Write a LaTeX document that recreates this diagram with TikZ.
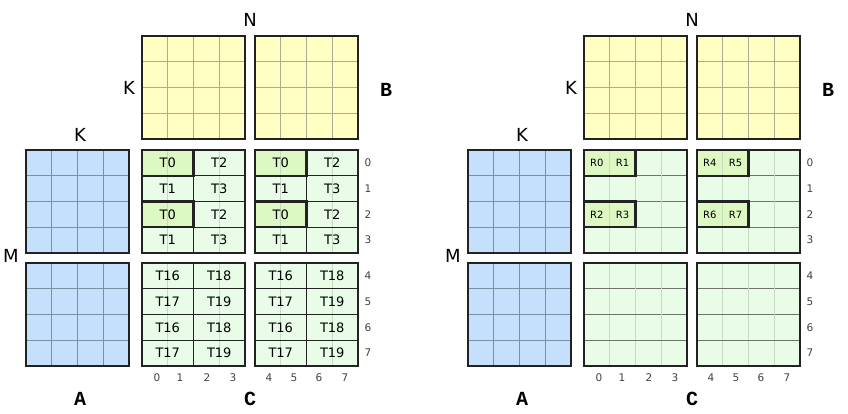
\documentclass[tikz,border=0pt]{standalone}
\usepackage{fontspec}
\setmainfont{DejaVu Sans}
\newfontfamily\monob{Liberation Mono}[BoldFont={Liberation Mono Bold}]
\definecolor{cyellow}{HTML}{FFFFC4}
\definecolor{cygrid}{HTML}{ACAC90}
\definecolor{cblue}{HTML}{C4E0FC}
\definecolor{cbgrid}{HTML}{7890A6}
\definecolor{cgreen}{HTML}{E8FCE8}
\definecolor{cfaint}{HTML}{C6DCC0}
\definecolor{chl}{HTML}{DDF8C2}
\definecolor{cdark}{HTML}{222222}
\definecolor{cmid}{HTML}{6E736E}
\newcommand\gridblock[4]{%
  \fill[#3] (#1,#2) rectangle ++(103,103);
  \foreach \k in {1,2,3} {
    \draw[#4, line width=0.9pt] (#1+\k*25.75,#2) -- ++(0,103);
    \draw[#4, line width=0.9pt] (#1,#2+\k*25.75) -- ++(103,0);
  }
  \draw[blk] (#1,#2) rectangle ++(103,103);
}
\tikzset{
  blk/.style={draw=cdark, line width=1.7pt},
  tcell/.style={draw=cdark, line width=1.3pt, minimum width=51.5pt, minimum height=25.75pt, inner sep=0pt, font=\fontsize{13}{13}\selectfont},
  rcell/.style={inner sep=0pt, font=\fontsize{10}{10}\selectfont},
  hotbox/.style={draw=cdark, line width=2.4pt},
  lbl/.style={inner sep=0pt, font=\fontsize{18}{18}\selectfont},
  big/.style={inner sep=0pt, font=\fontsize{20}{20}\monob\bfseries},
  idx/.style={inner sep=0pt, font=\fontsize{10.5}{10.5}\selectfont, text=black!75},
}
\begin{document}
\begin{tikzpicture}[x=1pt,y=-1pt]
\useasboundingbox (0,0) rectangle (848,414);
\foreach \dx/\p in {0/L,442/R} {
\begin{scope}[xshift=\dx]
  % B and A blocks
  \gridblock{142}{36}{cyellow}{cygrid}
  \gridblock{255}{36}{cyellow}{cygrid}
  \gridblock{26}{150}{cblue}{cbgrid}
  \gridblock{26}{263}{cblue}{cbgrid}
  % labels
  \node[lbl] (\p-N) at (250,20) {N};
  \node[lbl] (\p-KB) at (129,88) {K};
  \node[lbl] (\p-KA) at (80,135) {K};
  \node[lbl] (\p-M) at (11,256) {M};
  \node[big] (\p-B) at (386,90) {B};
  \node[big] (\p-A) at (80,399) {A};
  \node[big] (\p-C) at (250,399) {C};
  % row indices
  \foreach \r in {0,...,3} {
    \node[idx] (\p-ri\r) at (368,150+\r*25.75+12.9) {\r};
  }
  \foreach \r in {4,...,7} {
    \node[idx] (\p-ri\r) at (368,263+\r*25.75-103+12.9) {\r};
  }
  % column indices
  \foreach \c/\xx in {0/157,1/180,2/207,3/233,4/269,5/294,6/319,7/345} {
    \node[idx] (\p-ci\c) at (\xx,378) {\c};
  }
\end{scope}
}
% ---------- Left C ----------
\foreach \bx/\bi in {142/0,255/1} {
  \foreach \by/\bj in {150/0,263/1} {
    \fill[cgreen] (\bx,\by) rectangle ++(103,103);
    \ifnum\bj=0
      \fill[chl] (\bx,\by) rectangle ++(51.5,25.75);
      \fill[chl] (\bx,\by+51.5) rectangle ++(51.5,25.75);
    \fi
    \draw[cfaint, line width=0.8pt] (\bx+25.75,\by) -- ++(0,103);
    \draw[cfaint, line width=0.8pt] (\bx+77.25,\by) -- ++(0,103);
    \foreach \r in {0,...,3} {
      \foreach \cp in {0,1} {
        \pgfmathtruncatemacro\tn{16*\bj+2*\cp+mod(\r,2)}
        \node[tcell] (L-t\bi\bj\r\cp) at (\bx+25.75+\cp*51.5,\by+12.875+\r*25.75) {T\tn};
      }
    }
    \ifnum\bj=0
      \draw[hotbox] (\bx,\by) rectangle ++(51.5,25.75);
      \draw[hotbox] (\bx,\by+51.5) rectangle ++(51.5,25.75);
    \fi
    \draw[blk] (\bx,\by) rectangle ++(103,103);
  }
}
% ---------- Right C ----------
\foreach \bx/\bi in {584/0,697/1} {
  \foreach \by/\bj in {150/0,263/1} {
    \fill[cgreen] (\bx,\by) rectangle ++(103,103);
    \ifnum\bj=0
      \fill[chl] (\bx,\by) rectangle ++(51.5,25.75);
      \fill[chl] (\bx,\by+51.5) rectangle ++(51.5,25.75);
    \fi
    \foreach \k in {1,2,3} {
      \draw[cfaint, line width=0.8pt] (\bx+\k*25.75,\by) -- ++(0,103);
      \draw[cmid, line width=1pt] (\bx,\by+\k*25.75) -- ++(103,0);
    }
    \ifnum\bj=0
      \foreach \rr in {0,1} {
        \foreach \c in {0,1} {
          \pgfmathtruncatemacro\rn{4*\bi+2*\rr+\c}
          \node[rcell] (R-r\bi\rr\c) at (\bx+12.875+\c*25.75,\by+12.875+\rr*51.5) {R\rn};
        }
      }
      \draw[hotbox] (\bx,\by) rectangle ++(51.5,25.75);
      \draw[hotbox] (\bx,\by+51.5) rectangle ++(51.5,25.75);
    \fi
    \draw[blk] (\bx,\by) rectangle ++(103,103);
  }
}
\end{tikzpicture}
\end{document}
